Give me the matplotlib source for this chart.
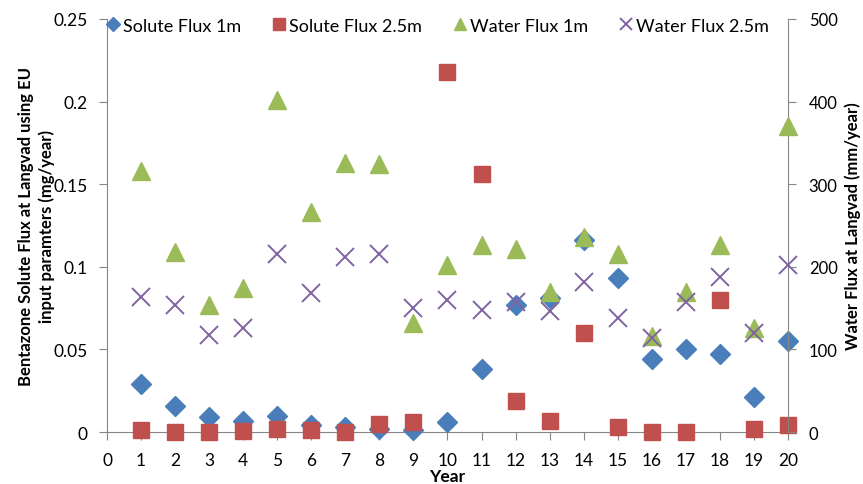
import matplotlib.pyplot as plt

plt.rcParams['font.family'] = ['Lato', 'DejaVu Sans']

years = list(range(1, 21))
solute_1m = [0.029, 0.016, 0.009, 0.007, 0.010, 0.004, 0.003, 0.002, 0.001, 0.006,
             0.038, 0.077, 0.081, 0.116, 0.093, 0.044, 0.050, 0.047, 0.021, 0.055]
solute_25m = [0.001, 0.0, 0.0, 0.0005, 0.002, 0.001, 0.0, 0.005, 0.006, 0.218,
              0.156, 0.019, 0.007, 0.060, 0.003, 0.0, 0.0, 0.080, 0.002, 0.004]
water_1m = [316, 218, 154, 174, 402, 266, 326, 324, 132, 202,
            226, 222, 170, 236, 216, 116, 170, 226, 126, 370]
water_25m = [164, 154, 118, 126, 216, 168, 212, 216, 150, 160,
             148, 158, 146, 182, 138, 114, 158, 188, 120, 202]

grey = '#868686'

fig = plt.figure(figsize=(8.63, 4.85), dpi=100)
ax = fig.add_axes([0.124, 0.107, 0.789, 0.852])
ax2 = ax.twinx()

l1, = ax.plot(years, solute_1m, 'D', color='#4A7EBB', ms=10, ls='none', clip_on=False,
              label='Solute Flux 1m', zorder=3)
l2, = ax.plot(years, solute_25m, 's', color='#C0504D', ms=11.5, ls='none', clip_on=False,
              label='Solute Flux 2.5m', zorder=4)
l3, = ax2.plot(years, water_1m, '^', color='#9BBB59', ms=12.5, ls='none', clip_on=False,
               label='Water Flux 1m', zorder=3)
l4, = ax2.plot(years, water_25m, 'x', color='#8064A2', ms=12.5, mew=1.4, ls='none', clip_on=False,
               label='Water Flux 2.5m', zorder=4)

ax.set_xlim(0, 20)
ax.set_ylim(0, 0.25)
ax2.set_ylim(0, 500)
ax.set_xticks(range(0, 21))
ax.set_yticks([0, 0.05, 0.1, 0.15, 0.2, 0.25])
ax.set_yticklabels(['0', '0.05', '0.1', '0.15', '0.2', '0.25'])
ax2.set_yticks(range(0, 501, 100))

for a in (ax, ax2):
    a.spines['top'].set_visible(False)
    for s in ('left', 'right', 'bottom'):
        a.spines[s].set_color(grey)
    a.tick_params(colors=grey, labelcolor='black', labelsize=12.5, length=6)
ax.tick_params(axis='x', pad=8)
ax.tick_params(axis='y', pad=8)
ax2.tick_params(axis='y', pad=9, labelsize=12)
ax.spines['right'].set_visible(False)
ax2.spines['left'].set_visible(False)
ax2.spines['bottom'].set_visible(False)

ax.set_xlabel('Year', fontsize=12.5, fontweight='bold', labelpad=0)
ax.set_ylabel('Bentazone Solute Flux at Langvad using EU\ninput paramters (mg/year)',
              fontsize=12, fontweight='bold', labelpad=-1, linespacing=1.3)
ax2.set_ylabel('Water Flux at Langvad (mm/year)', fontsize=12, fontweight='bold', labelpad=5)

fig.legend(handles=[l1, l2, l3, l4], loc='center', bbox_to_anchor=(0.506, 0.945), ncol=4,
           frameon=False, fontsize=13, handletextpad=0.1, columnspacing=1.65,
           handlelength=0.9, markerscale=0.7)

fig.savefig('out.png', dpi=100)
